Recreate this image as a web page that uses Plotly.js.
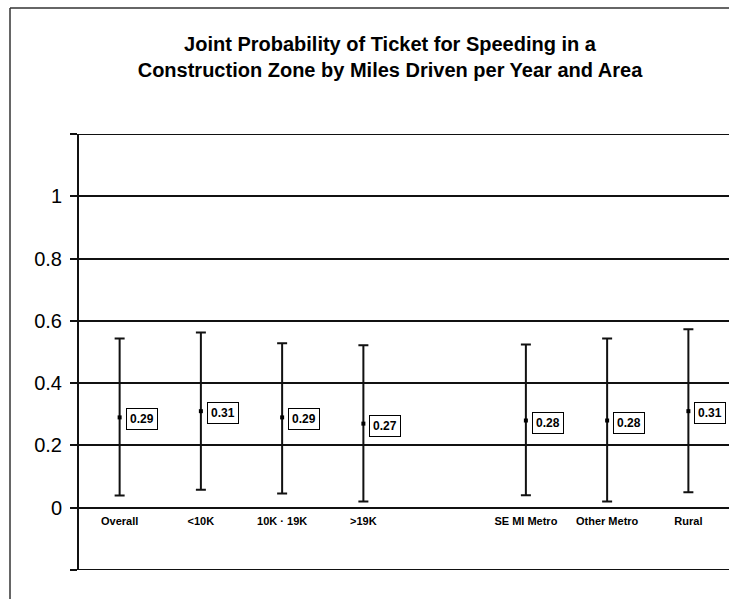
<!DOCTYPE html>
<html>
<head>
<meta charset="utf-8">
<script src="https://cdn.plot.ly/plotly-3.0.1.min.js"></script>
<style>
html,body{margin:0;padding:0;background:#fff;}
#chart{width:729px;height:599px;}
</style>
</head>
<body>
<div id="chart"></div>
<script>
// Data
var categories = ["Overall", "<10K", "10K \u00b7 19K", ">19K", "SE MI Metro", "Other Metro", "Rural"];
var positions  = [0, 1, 2, 3, 5, 6, 7];
var estimate   = [0.29, 0.31, 0.29, 0.27, 0.28, 0.28, 0.31];
var upper      = [0.543, 0.563, 0.528, 0.522, 0.524, 0.543, 0.573];
var lower      = [0.039, 0.058, 0.046, 0.020, 0.040, 0.020, 0.050];
var yTickVals  = [-0.2, 0, 0.2, 0.4, 0.6, 0.8, 1, 1.2];
var yTickText  = ["", "0", "0.2", "0.4", "0.6", "0.8", "1", ""];
var yRange     = [-0.2, 1.2];

var plusErr = upper.map(function(u, i){ return u - estimate[i]; });
var minusErr = lower.map(function(l, i){ return estimate[i] - l; });

var trace = {
  type: 'scatter',
  mode: 'markers',
  x: positions,
  y: estimate,
  marker: {symbol: 'square', size: 4, color: '#000'},
  error_y: {
    type: 'data', symmetric: false,
    array: plusErr, arrayminus: minusErr,
    color: '#111', thickness: 2, width: 5
  },
  hoverinfo: 'skip',
  showlegend: false
};

var annotations = estimate.map(function(v, i){
  return {
    x: positions[i], y: v, xref: 'x', yref: 'y',
    text: v.toFixed(2), showarrow: false,
    xanchor: 'left', yanchor: 'middle', xshift: 6, yshift: -2,
    font: {family: 'Liberation Sans, Arial, sans-serif', size: 12, color: '#000', weight: 'bold'},
    bordercolor: '#000', borderwidth: 1, borderpad: 3, bgcolor: '#fff'
  };
});

// pixel -> paper helpers (plot area: x 79..729, y 134..570)
function px(x){ return (x - 79) / 650; }
function py(y){ return (570 - y) / 436; }

var shapes = [
  {type: 'line', xref: 'paper', yref: 'paper', x0: px(10), x1: px(10), y0: py(8), y1: py(600), line: {color: '#333', width: 1.5}},
  {type: 'line', xref: 'paper', yref: 'paper', x0: px(10), x1: px(730), y0: py(8), y1: py(8), line: {color: '#333', width: 1.5}},
  // edge gridlines (top and bottom of plot area), which Plotly does not draw itself
  {type: 'line', xref: 'paper', yref: 'y', x0: px(72), x1: 1, y0: yRange[0], y1: yRange[0], line: {color: '#111', width: 2}},
  {type: 'line', xref: 'paper', yref: 'y', x0: px(72), x1: 1, y0: yRange[1], y1: yRange[1], line: {color: '#111', width: 2}}
];

var layout = {
  width: 729, height: 599,
  margin: {l: 79, r: 0, t: 134, b: 29, pad: 0},
  paper_bgcolor: '#fff', plot_bgcolor: '#fff',
  title: {
    text: 'Joint Probability of Ticket for Speeding in a<br>Construction Zone by Miles Driven per Year and Area',
    font: {family: 'Liberation Sans, Arial, sans-serif', size: 20, color: '#000', weight: 'bold'},
    xref: 'paper', x: px(390), xanchor: 'center',
    yref: 'container', y: 1 - 51/599, yanchor: 'top'
  },
  xaxis: {
    range: [-0.5, 7.5],
    tickvals: positions, ticktext: categories,
    showgrid: false, zeroline: false, showline: false,
    ticks: '', anchor: 'free', position: py(508),
    ticklabelstandoff: 5,
    tickfont: {family: 'Liberation Sans Narrow, Liberation Sans, Arial, sans-serif', size: 11, color: '#000', weight: 'bold'},
    fixedrange: true
  },
  yaxis: {
    range: yRange,
    tickvals: yTickVals, ticktext: yTickText,
    showgrid: true, gridcolor: '#111', gridwidth: 2,
    zeroline: false,
    showline: true, linecolor: '#111', linewidth: 2,
    ticks: 'outside', ticklen: 7, tickcolor: '#111', tickwidth: 2,
    ticklabelstandoff: 4,
    tickfont: {family: 'Liberation Sans, Arial, sans-serif', size: 20, color: '#000'},
    fixedrange: true
  },
  annotations: annotations,
  shapes: shapes
};

Plotly.newPlot('chart', [trace], layout, {staticPlot: true, displayModeBar: false});
</script>
</body>
</html>
